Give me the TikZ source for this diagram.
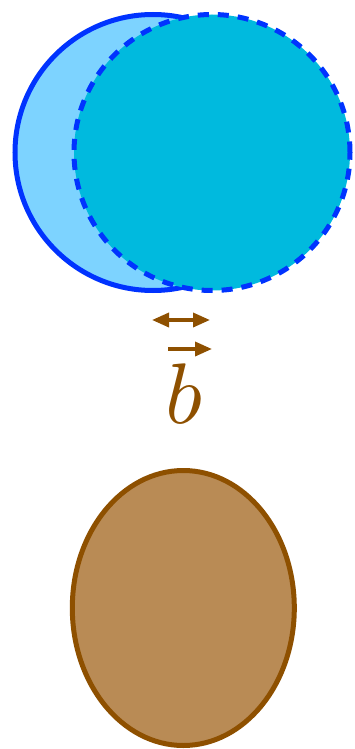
\documentclass[tikz,border=0pt]{standalone}
\usepackage{xcolor}
\usepackage{tikz}
\usetikzlibrary{arrows.meta, shapes.geometric}
\definecolor{Edge}{HTML}{0033FF}
\definecolor{SoftSky}{HTML}{7DD3FF}
\definecolor{Cyan}{HTML}{00BADE}
\definecolor{Brown}{HTML}{8E5000}
\definecolor{SoftBrown}{HTML}{B98B55}

\begin{document}
\begin{tikzpicture}[
  x=1pt, y=-1pt,
  disc/.style={circle, inner sep=0pt, minimum size=276pt, line width=5pt, draw=Edge},
  before/.style={disc, fill=SoftSky},
  after/.style={disc, fill=Cyan, dash pattern=on 11pt off 9pt},
  blob/.style={ellipse, inner sep=0pt, minimum width=222pt, minimum height=275pt, line width=5pt, draw=Brown, fill=SoftBrown},
  arrow/.style={-{Triangle[length=17pt, width=14pt]}, line width=3.5pt, draw=Brown},
  twoway/.style={{Triangle[length=17pt, width=14pt]}-{Triangle[length=17pt, width=14pt]}, line width=3.5pt, draw=Brown}
]
\useasboundingbox (0,0) rectangle (354,749);
\node[before] (orig) at (153,152.5) {};
\node[after] (moved) at (212,152.5) {};

\coordinate (dl) at (152,320);
\coordinate (dr) at (210,320);
\draw[twoway] (dl) -- (dr);

\node[anchor=base, inner sep=0pt, text=Brown, scale=8.6] (bvec) at (184,423) {$b$};
\coordinate (vl) at (168,349);
\coordinate (vr) at (212,349);
\draw[arrow] (vl) -- (vr);

\node[blob] (body) at (183.3,608) {};
\end{tikzpicture}
\end{document}
